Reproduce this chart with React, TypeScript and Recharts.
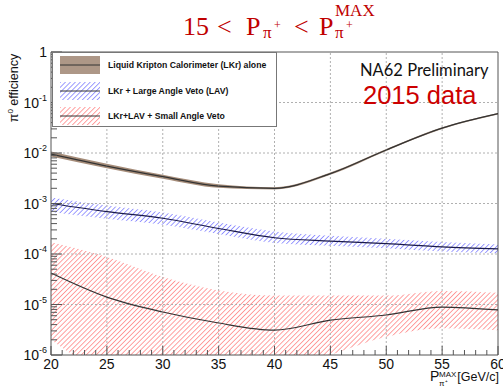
import React from "react";
import { ComposedChart, Line, Area, XAxis, YAxis, ReferenceLine } from "recharts";

// ---- data ----
const P_MAX = [20, 25, 30, 35, 40, 45, 50, 55, 60];

const LKR = [0.0095, 0.0055, 0.0034, 0.0022, 0.002, 0.0039, 0.0115, 0.031, 0.06];
const LKR_LO = [0.0085, 0.005, 0.0031, 0.00205, 0.0019, 0.0037, 0.011, 0.0298, 0.058];
const LKR_HI = [0.0107, 0.0061, 0.0037, 0.0024, 0.0021, 0.0041, 0.012, 0.0322, 0.062];

const LAV = [0.001, 0.00069, 0.00051, 0.00032, 0.00021, 0.00018, 0.00016, 0.000138, 0.000126];
const LAV_LO = [0.00068, 0.0005, 0.00038, 0.00025, 0.000165, 0.000145, 0.00013, 0.000112, 0.000103];
const LAV_HI = [0.00132, 0.00091, 0.00066, 0.00042, 0.00028, 0.00023, 0.0002, 0.000172, 0.000155];

const SAV = [4.2e-5, 1.4e-5, 7.1e-6, 4.3e-6, 3.1e-6, 4.9e-6, 6.2e-6, 8.9e-6, 7.8e-6];
const SAV_LO = [2.0e-6, 5e-7, 4e-7, 4e-7, 4e-7, 1.0e-6, 2.3e-6, 3.4e-6, 3.1e-6];
const SAV_HI = [1.7e-4, 8.7e-5, 3.5e-5, 1.9e-5, 1.5e-5, 1.5e-5, 1.5e-5, 1.85e-5, 1.7e-5];

const X_MAJOR = [20, 25, 30, 35, 40, 45, 50, 55, 60];
const X_TICKS = [
  20, 21, 22, 23, 24, 25, 26, 27, 28, 29, 30, 31, 32, 33, 34, 35, 36, 37, 38, 39, 40,
  41, 42, 43, 44, 45, 46, 47, 48, 49, 50, 51, 52, 53, 54, 55, 56, 57, 58, 59, 60,
];
const Y_MAJOR = [1e-6, 1e-5, 1e-4, 1e-3, 1e-2, 1e-1, 1];
const Y_EXP = [-6, -5, -4, -3, -2, -1, 0];
const Y_MINOR_MULT = [2, 3, 4, 5, 6, 7, 8, 9];

const LEGEND = [
  "Liquid Kripton Calorimeter (LKr) alone",
  "LKr + Large Angle Veto (LAV)",
  "LKr+LAV + Small Angle Veto",
];

const data = P_MAX.map((x, i) => ({
  x,
  lkr: LKR[i],
  lkrBand: [LKR_LO[i], LKR_HI[i]],
  lav: LAV[i],
  lavBand: [LAV_LO[i], LAV_HI[i]],
  sav: SAV[i],
  savBand: [SAV_LO[i], SAV_HI[i]],
}));

const yTicks: number[] = [];
Y_MAJOR.forEach((m, i) => {
  yTicks.push(m);
  if (i < Y_MAJOR.length - 1) Y_MINOR_MULT.forEach((k) => yTicks.push(parseFloat((k * m).toPrecision(3))));
});

const AXIS = "#555";
const GRID = "#b0b0b0";
const FONT = '"Liberation Sans", Arial, sans-serif';
const SERIF = '"Liberation Serif", serif';
const RED_T = "#c00000";
const RED_HATCH = "#ff5555";
const BLUE_HATCH = "#4b4bff";

const XTick = (props: any) => {
  const { x, y, payload } = props;
  const v = payload.value;
  const major = X_MAJOR.includes(v);
  return (
    <g>
      <line x1={x} y1={y} x2={x} y2={y - (major ? 9 : 5)} stroke={AXIS} strokeWidth={1} />
      {major && (
        <text x={x} y={y + 14} textAnchor="middle" fontSize={14} fontFamily={FONT} fill="#111">
          {v}
        </text>
      )}
    </g>
  );
};

const YTick = (props: any) => {
  const { x, y, payload } = props;
  const v = payload.value;
  const idx = Y_MAJOR.findIndex((m) => Math.abs(m - v) / m < 1e-6);
  const major = idx >= 0;
  return (
    <g>
      <line x1={x} y1={y} x2={x + (major ? 11 : 6)} y2={y} stroke={AXIS} strokeWidth={1} />
      {major && (
        <text x={x - 4} y={y + 5} textAnchor="end" fontSize={14} fontFamily={FONT} fill="#111">
          {Y_EXP[idx] === 0 ? (
            "1"
          ) : (
            <>
              <tspan>10</tspan>
              <tspan dy={-7} fontSize={9}>
                {String(Y_EXP[idx])}
              </tspan>
            </>
          )}
        </text>
      )}
    </g>
  );
};

const Swatch = ({ kind }: { kind: number }) => (
  <svg width={40} height={18} style={{ display: "block" }}>
    <defs>
      <pattern id={`lg${kind}`} patternUnits="userSpaceOnUse" width={3.5} height={3.5} patternTransform="rotate(45)">
        <line x1={0} y1={0} x2={0} y2={3.5} stroke={kind === 1 ? BLUE_HATCH : RED_HATCH} strokeWidth={1.1} />
      </pattern>
    </defs>
    <rect x={0} y={0} width={40} height={18} fill={kind === 0 ? "#ad9787" : `url(#lg${kind})`} />
    <line x1={0} y1={9} x2={40} y2={9} stroke="#333" strokeWidth={1} />
  </svg>
);

export default function App() {
  return (
    <div style={{ position: "absolute", left: 0, top: 0, width: 503, height: 387, background: "#fff", overflow: "hidden" }}>
      <ComposedChart width={503} height={387} data={data} margin={{ top: 52, right: 5, bottom: 0, left: 0 }}>
        <defs>
          <pattern id="hatchBlue" patternUnits="userSpaceOnUse" width={3.5} height={3.5} patternTransform="rotate(45)">
            <line x1={0} y1={0} x2={0} y2={3.5} stroke={BLUE_HATCH} strokeWidth={1.1} />
          </pattern>
          <pattern id="hatchRed" patternUnits="userSpaceOnUse" width={3.5} height={3.5} patternTransform="rotate(45)">
            <line x1={0} y1={0} x2={0} y2={3.5} stroke={RED_HATCH} strokeWidth={1.1} />
          </pattern>
        </defs>
        <XAxis
          dataKey="x"
          type="number"
          domain={[20, 60]}
          ticks={X_TICKS}
          interval={0}
          height={32}
          tickSize={0}
          tickMargin={0}
          tickLine={false}
          axisLine={{ stroke: AXIS }}
          tick={<XTick />}
        />
        <YAxis
          scale="log"
          type="number"
          domain={[1e-6, 1]}
          allowDataOverflow
          ticks={yTicks}
          interval={0}
          width={51}
          tickSize={0}
          tickMargin={0}
          tickLine={false}
          axisLine={{ stroke: AXIS }}
          tick={<YTick />}
        />
        {X_MAJOR.slice(1, -1).map((v) => (
          <ReferenceLine key={`gx${v}`} x={v} stroke={GRID} strokeDasharray="2 2" />
        ))}
        {Y_MAJOR.slice(1, -1).map((v) => (
          <ReferenceLine key={`gy${v}`} y={v} stroke={GRID} strokeDasharray="2 2" />
        ))}
        <ReferenceLine y={1} stroke={AXIS} />
        <ReferenceLine x={60} stroke={AXIS} />
        <Area dataKey="savBand" type="monotone" fill="url(#hatchRed)" fillOpacity={1} stroke="none" isAnimationActive={false} />
        <Area dataKey="lavBand" type="monotone" fill="url(#hatchBlue)" fillOpacity={1} stroke="none" isAnimationActive={false} />
        <Area dataKey="lkrBand" type="monotone" fill="#a08672" fillOpacity={0.95} stroke="none" isAnimationActive={false} />
        <Line dataKey="sav" type="monotone" stroke="#333" strokeWidth={1.2} dot={false} isAnimationActive={false} />
        <Line dataKey="lav" type="monotone" stroke="#1a1a4a" strokeWidth={1.2} dot={false} isAnimationActive={false} />
        <Line dataKey="lkr" type="monotone" stroke="#333" strokeWidth={1.2} dot={false} isAnimationActive={false} />
      </ComposedChart>

      {/* legend */}
      <div
        style={{
          position: "absolute",
          left: 52,
          top: 52,
          width: 225,
          height: 75,
          background: "#fff",
          border: "1px solid #777",
          boxSizing: "border-box",
          fontFamily: FONT,
          fontWeight: "bold",
          fontSize: 8.7,
          color: "#111",
        }}
      >
        {LEGEND.map((t, i) => (
          <div key={t} style={{ position: "absolute", left: 7, top: 3 + i * 25.5, display: "flex", alignItems: "center", height: 18 }}>
            <Swatch kind={i} />
            <span style={{ marginLeft: 8, whiteSpace: "nowrap" }}>{t}</span>
          </div>
        ))}
      </div>

      {/* texts: title, annotations, axis titles */}
      <svg width={503} height={387} style={{ position: "absolute", left: 0, top: 0, pointerEvents: "none" }}>
        <g fill={RED_T} fontFamily={SERIF}>
          <text x={183} y={35} fontSize={26}>15</text>
          <text x={217} y={35} fontSize={26}>&lt;</text>
          <text x={246} y={35} fontSize={26}>P</text>
          <text x={263} y={38} fontSize={17}>π</text>
          <text x={274} y={29} fontSize={12}>+</text>
          <text x={294} y={35} fontSize={26}>&lt;</text>
          <text x={319} y={35} fontSize={26}>P</text>
          <text x={335} y={16} fontSize={17}>MAX</text>
          <text x={335} y={38} fontSize={17}>π</text>
          <text x={346} y={29} fontSize={12}>+</text>
        </g>
        <text x={360} y={76} fontSize={16.5} fontFamily="Lato, sans-serif" fill="#111">
          NA62 Preliminary
        </text>
        <text x={363} y={104} fontSize={25.5} fontFamily={FONT} fill="#cc0000">
          2015 data
        </text>
        <text
          transform="translate(18,88) rotate(-90)"
          textAnchor="middle"
          fontSize={12.5}
          fontFamily={FONT}
          fill="#111"
        >
          <tspan>π</tspan>
          <tspan dy={-5} fontSize={8}>0</tspan>
          <tspan dy={5}> efficiency</tspan>
        </text>
        <g fontFamily={FONT} fill="#111">
          <text x={430} y={381} fontSize={14}>P</text>
          <text x={439} y={377} fontSize={8}>MAX</text>
          <text x={439} y={386} fontSize={8}>π⁺</text>
          <text x={499} y={381} fontSize={12.5} textAnchor="end">[GeV/c]</text>
        </g>
      </svg>
    </div>
  );
}
